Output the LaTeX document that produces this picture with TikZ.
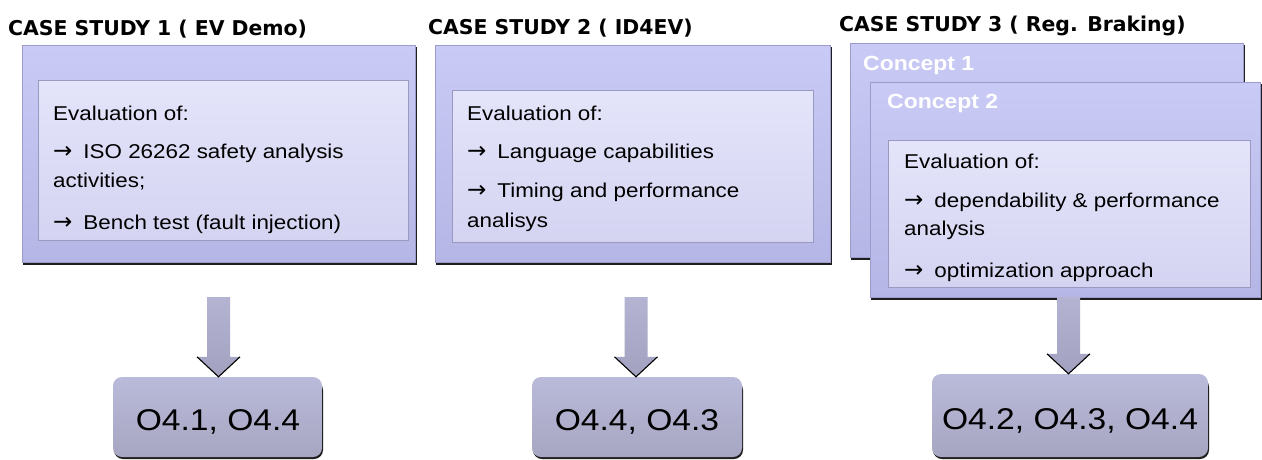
\documentclass[tikz,border=0pt]{standalone}
\usepackage{fontspec}
\setmainfont{Liberation Sans}
\newfontfamily\bodyfont{Liberation Sans}[FakeStretch=1.12]
\newfontfamily\titlefont{DejaVu Sans}
\newfontfamily\arrowfont{DejaVu Sans}
\newcommand{\rarr}{{\arrowfont\fontsize{23}{24}\selectfont →}\hspace{11pt}}
\usetikzlibrary{calc,fit}
\definecolor{boxtop}{HTML}{CACAF6}
\definecolor{boxbot}{HTML}{B6B6E6}
\definecolor{boxedge}{HTML}{9C9CCC}
\definecolor{intop}{HTML}{E4E4FA}
\definecolor{inbot}{HTML}{D4D4F2}
\definecolor{inedge}{HTML}{9A9AC0}
\definecolor{restop}{HTML}{BABADA}
\definecolor{resbot}{HTML}{A6A6C2}
\definecolor{arrtop}{HTML}{B4B4D2}
\definecolor{arrbot}{HTML}{A2A2C0}
\definecolor{shadowc}{HTML}{1E1E1E}
\tikzset{
  outerbox/.style={rectangle, draw=boxedge, line width=0.8pt, top color=boxtop, bottom color=boxbot, inner sep=0pt},
  innerbox/.style={rectangle, draw=inedge, line width=0.6pt, top color=intop, bottom color=inbot, inner sep=0pt},
  resbox/.style={rectangle, rounded corners=9pt, draw=none, top color=restop, bottom color=resbot, inner sep=0pt},
  shadowbox/.style={fill=shadowc},
  titletext/.style={font=\titlefont\bfseries\fontsize{20.4}{24}\selectfont, inner sep=0pt, anchor=base west},
  bodytext/.style={font=\bodyfont\fontsize{20}{24}\selectfont, inner sep=0pt, anchor=base west},
  concepttext/.style={font=\bodyfont\bfseries\fontsize{20.5}{24}\selectfont, text=white, inner sep=0pt, anchor=base west},
  restext/.style={font=\bodyfont\fontsize{30}{34}\selectfont, inner sep=0pt, anchor=base},
  arrowbody/.style={top color=arrtop, bottom color=arrbot, draw=none},
  arrowrim/.style={draw=black, line width=1.1pt},
}
\newcommand{\blockarrow}[2]{%
  \path let \p1=(#1), \p2=(#2.north) in
    [arrowbody] (\x1-11.5,\y1) -- (\x1+11.5,\y1) -- (\x1+11.5,\y2+20) -- (\x1+21.5,\y2+20)
    -- (\x1,\y2) -- (\x1-21.5,\y2+20) -- (\x1-11.5,\y2+20) -- cycle;
  \draw let \p1=(#1), \p2=(#2.north) in
    [arrowrim] (\x1-21.5,\y2+20) -- (\x1,\y2) -- (\x1+21.5,\y2+20);}
\begin{document}
\begin{tikzpicture}[x=1pt,y=-1pt]
\useasboundingbox (0,0) rectangle (1262,459);
\fill[white] (0,0) rectangle (1262,459);

% ---------- titles
\node[titletext] (h1) at (8,35) {CASE STUDY 1 ( EV Demo)};
\node[titletext] (h2) at (428,34) {CASE STUDY 2 ( ID4EV)};
\node[titletext] (h3) at (839,31) {CASE STUDY 3 ( Reg. Braking)};

% ---------- case study 1
\fill[shadowbox] (23,47) rectangle (417,265);
\node[outerbox, fit={(22,45) (415,262)}] (b1) {};
\node[innerbox, fit={(38,80) (408,240)}] (b1i) {};
\node[bodytext] (t1a) at (53,120) {Evaluation of:};
\node[bodytext] (t1b) at (53,158) {\rarr ISO 26262 safety analysis};
\node[bodytext] (t1c) at (53,187) {activities;};
\node[bodytext] (t1d) at (53,229) {\rarr Bench test (fault injection)};

% ---------- case study 2
\fill[shadowbox] (436,47) rectangle (832,265);
\node[outerbox, fit={(435,45) (830,262)}] (b2) {};
\node[innerbox, fit={(452,90) (813,242)}] (b2i) {};
\node[bodytext] (t2a) at (467,120) {Evaluation of:};
\node[bodytext] (t2b) at (467,158) {\rarr Language capabilities};
\node[bodytext] (t2c) at (467,197) {\rarr Timing and performance};
\node[bodytext] (t2d) at (467,227) {analisys};

% ---------- case study 3
\fill[shadowbox] (851,45) rectangle (1245,260);
\node[outerbox, fit={(850,43) (1243,257)}] (c1) {};
\node[concepttext] (c1t) at (863,70) {Concept 1};
\fill[shadowbox] (871,84) rectangle (1262,300);
\node[outerbox, fit={(870,82) (1260,297)}] (c2) {};
\node[concepttext] (c2t) at (887,108) {Concept 2};
\node[innerbox, fit={(888,140) (1250,287)}] (b3i) {};
\node[bodytext] (t3a) at (904,168) {Evaluation of:};
\node[bodytext] (t3b) at (904,207) {\rarr dependability \& performance};
\node[bodytext] (t3c) at (904,235) {analysis};
\node[bodytext] (t3d) at (904,277) {\rarr optimization approach};

% ---------- result boxes
\fill[shadowbox, rounded corners=9pt] (114,381) rectangle (323,459);
\node[resbox, fit={(113,377) (322,457)}] (r1) {};
\node[restext] (r1t) at (218,430) {O4.1, O4.4};
\fill[shadowbox, rounded corners=9pt] (533,381) rectangle (743,459);
\node[resbox, fit={(532,377) (742,457)}] (r2) {};
\node[restext] (r2t) at (637,430) {O4.4, O4.3};
\fill[shadowbox, rounded corners=9pt] (933,378) rectangle (1209,459);
\node[resbox, fit={(932,374) (1208,457)}] (r3) {};
\node[restext] (r3t) at (1070,429) {O4.2, O4.3, O4.4};

% ---------- block arrows
\coordinate (a1) at (218.5,297);
\coordinate (a2) at (636,297);
\coordinate (a3) at (1068.5,297);
\blockarrow{a1}{r1}
\blockarrow{a2}{r2}
\blockarrow{a3}{r3}
\end{tikzpicture}
\end{document}
